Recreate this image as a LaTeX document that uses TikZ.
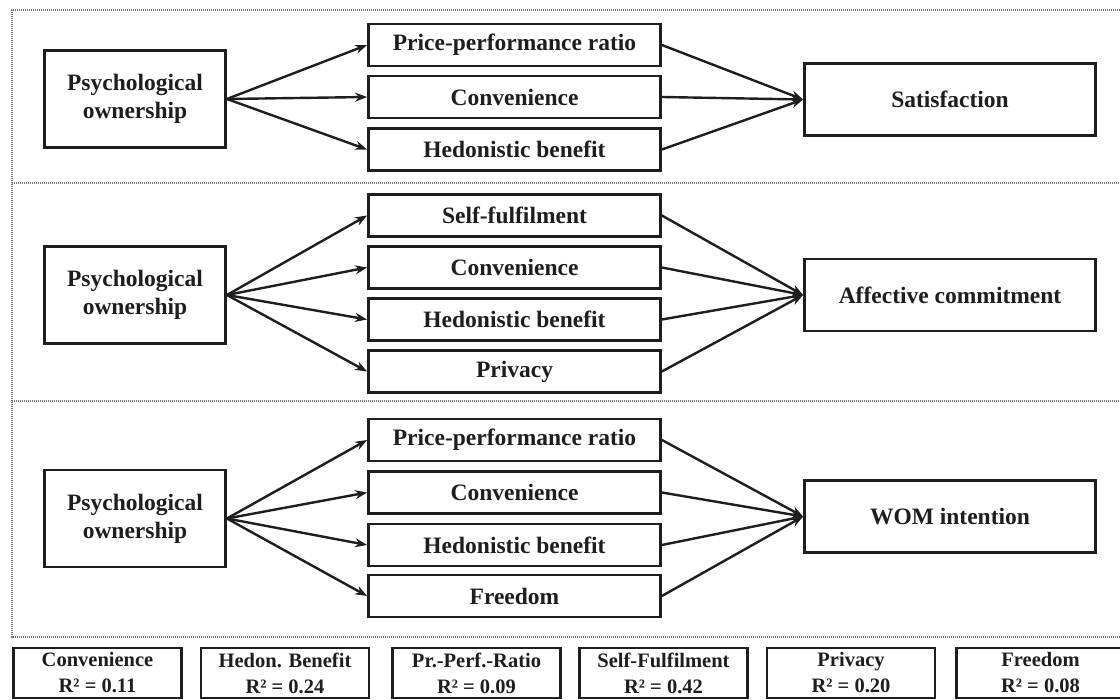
\documentclass[tikz,border=0pt]{standalone}
\usepackage{fontspec}
\setmainfont{Liberation Serif}
\usetikzlibrary{arrows.meta}
\definecolor{ink}{HTML}{1E1E1E}
\begin{document}
\begin{tikzpicture}[x=1pt,y=-1pt,
  every node/.style={inner sep=0pt,text=ink,align=center},
  box/.style={draw=ink,line width=2.8pt,rectangle,fill=white},
  pobox/.style={box,minimum width=181pt,minimum height=97pt,
    font=\bfseries\fontsize{23.5}{28}\selectfont},
  midbox/.style={box,minimum width=292pt,minimum height=42pt,
    font=\bfseries\fontsize{23.5}{28}\selectfont},
  outbox/.style={box,minimum width=291pt,minimum height=72pt,
    font=\bfseries\fontsize{23.5}{28}\selectfont},
  rbox/.style={box,minimum width=168pt,minimum height=50pt,
    font=\bfseries\fontsize{20.5}{26}\selectfont},
  arr/.style={draw=ink,line width=2.4pt,-{Stealth[length=12pt,width=9pt]}},
  frame/.style={draw=black!55,line width=1.3pt,dash pattern=on 1.2pt off 0.8pt}
]
\useasboundingbox (0,0) rectangle (1120,700);
\clip (0,0) rectangle (1120,700);

% dotted frame with two separators
\draw[frame] (1130,10) -- (12,10) -- (12,637) -- (1130,637);
\draw[frame] (12,183) -- (1130,183);
\draw[frame] (12,401) -- (1130,401);

% --- block 1: satisfaction
\node[pobox] (p1) at (135,99) {Psychological\\ownership};
\node[midbox] (a1) at (514.5,45) {Price-performance ratio};
\node[midbox] (a2) at (514.5,97) {Convenience};
\node[midbox] (a3) at (514.5,149.5) {Hedonistic benefit};
\node[outbox] (sat) at (950,99.5) {Satisfaction};
\foreach \m in {a1,a2,a3}{
  \draw[arr] (p1.east) -- (\m.west);
  \draw[arr] (\m.east) -- (sat.west);
}

% --- block 2: affective commitment
\node[pobox] (p2) at (135,295) {Psychological\\ownership};
\node[midbox] (b1) at (514.5,215.5) {Self-fulfilment};
\node[midbox] (b2) at (514.5,267.5) {Convenience};
\node[midbox] (b3) at (514.5,319.5) {Hedonistic benefit};
\node[midbox] (b4) at (514.5,371.5) {Privacy};
\node[outbox] (aff) at (950,295) {Affective commitment};
\foreach \m in {b1,b2,b3,b4}{
  \draw[arr] (p2.east) -- (\m.west);
  \draw[arr] (\m.east) -- (aff.west);
}

% --- block 3: WOM intention
\node[pobox] (p3) at (135,518.5) {Psychological\\ownership};
\node[midbox] (c1) at (514.5,440) {Price-performance ratio};
\node[midbox] (c2) at (514.5,492.5) {Convenience};
\node[midbox] (c3) at (514.5,545) {Hedonistic benefit};
\node[midbox] (c4) at (514.5,596) {Freedom};
\node[outbox] (wom) at (950,516.5) {WOM intention};
\foreach \m in {c1,c2,c3,c4}{
  \draw[arr] (p3.east) -- (\m.west);
  \draw[arr] (\m.east) -- (wom.west);
}

% --- explained variance row
\node[rbox] (r1) at (97.5,673) {Convenience\\R² = 0.11};
\node[rbox] (r2) at (285,673) {Hedon. Benefit\\R² = 0.24};
\node[rbox] (r3) at (476.5,673) {Pr.-Perf.-Ratio\\R² = 0.09};
\node[rbox] (r4) at (663.5,673) {Self-Fulfilment\\R² = 0.42};
\node[rbox] (r5) at (851,673) {Privacy\\R² = 0.20};
\node[rbox] (r6) at (1040.5,673) {Freedom\\R² = 0.08};
\end{tikzpicture}
\end{document}
